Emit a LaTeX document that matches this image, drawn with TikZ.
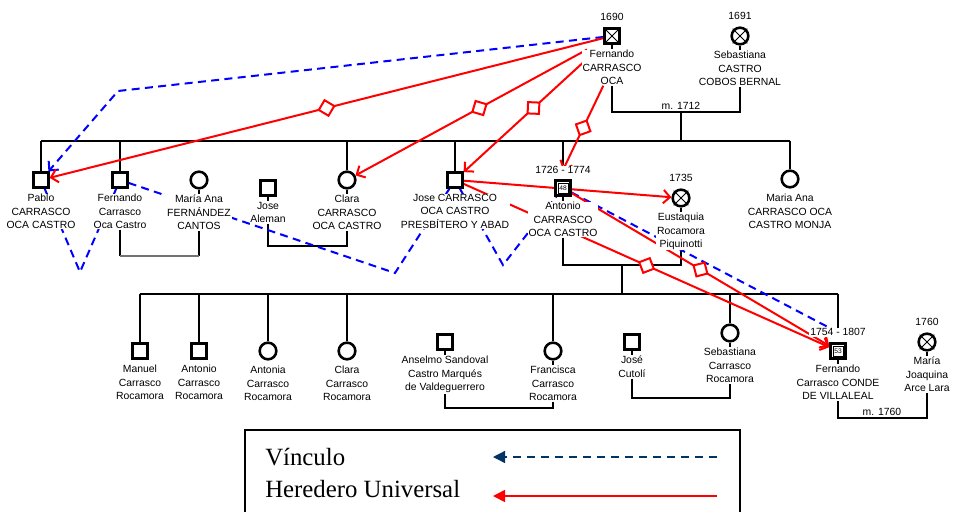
\documentclass[tikz,border=0pt]{standalone}
\usepackage{fontspec}
\setmainfont{Liberation Sans}
\newfontfamily\legfont{Liberation Serif}
\usetikzlibrary{positioning, arrows.meta, decorations.markings, backgrounds}
\definecolor{navy}{RGB}{0,51,102}

\begin{document}
\begin{tikzpicture}[x=0.75pt, y=-0.75pt]
	\tikzstyle{male}=[draw, line width=1.9pt, minimum size=11pt, inner sep=0pt, fill=white];
	\tikzstyle{female}=[draw, circle, line width=1.9pt, minimum size=12.5pt, inner sep=0pt, fill=white];
	\tikzstyle{lbl}=[fill=white, inner sep=0.6pt, align=center, font=\fontsize{7.8}{10}\selectfont];
	\tikzstyle{age}=[draw, line width=0.4pt, inner sep=0pt, minimum size=7.5pt, font=\fontsize{5}{5}\selectfont];
	\tikzstyle{kin}=[line width=1.9pt];
	\tikzstyle{heir}=[red, line width=1.5pt, -{Straight Barb[length=5pt, width=10pt]}];
	\tikzstyle{vinc}=[blue, line width=1.5pt, dash pattern=on 6pt off 4pt];
	\tikzstyle{dia}=[postaction={decorate, decoration={markings, mark=at position 0.5 with {\draw[red, solid, line width=1.5pt, fill=white] (-6pt,0) -- (0,6pt) -- (6pt,0) -- (0,-6pt) -- cycle;}}}];
	\useasboundingbox (0,0) rectangle (953,511);

	% first generation
	\node[male] (fer) at (612,36) {};
	\node[lbl, above=4pt of fer] (ferY) {1690};
	\node[lbl, below=3.5pt of fer] (ferL) {Fernando\\CARRASCO\\OCA};
	\node[female] (seb) at (740,36) {};
	\node[lbl, above=4pt of seb] (sebY) {1691};
	\node[lbl, below=3.5pt of seb] (sebL) {Sebastiana\\CASTRO\\COBOS BERNAL};

	% second generation
	\node[male] (pab) at (41,180) {};
	\node[lbl, below=3.5pt of pab] (pabL) {Pablo\\CARRASCO\\OCA CASTRO};
	\node[male] (fhi) at (120,180) {};
	\node[lbl, below=3.5pt of fhi] (fhiL) {Fernando\\Carrasco\\Oca Castro};
	\node[female] (mfa) at (199,180) {};
	\node[lbl, below=3.5pt of mfa] (mfaL) {María Ana\\FERNÁNDEZ\\CANTOS};
	\node[male] (ale) at (268,188) {};
	\node[lbl, below=3.5pt of ale] (aleL) {Jose\\Aleman};
	\node[female] (cla) at (347,180) {};
	\node[lbl, below=3.5pt of cla] (claL) {Clara\\CARRASCO\\OCA CASTRO};
	\node[male] (jca) at (455,180) {};
	\node[lbl, below=3.5pt of jca] (jcaL) {Jose CARRASCO\\OCA CASTRO\\PRESBÍTERO Y ABAD};
	\node[male, label={[age]center:48}] (ant) at (563,188) {};
	\node[lbl, above=3.5pt of ant] (antY) {1726 - 1774};
	\node[lbl, below=3.5pt of ant] (antL) {Antonio\\CARRASCO\\OCA CASTRO};
	\node[female] (eus) at (681,198) {};
	\node[lbl, above=4pt of eus] (eusY) {1735};
	\node[lbl, below=3.5pt of eus] (eusL) {Eustaquia\\Rocamora\\Piquinotti};
	\node[female] (mon) at (790,179) {};
	\node[lbl, below=3.5pt of mon] (monL) {Maria Ana\\CARRASCO OCA\\CASTRO MONJA};

	% third generation
	\node[male] (man) at (140,351) {};
	\node[lbl, below=3.5pt of man] (manL) {Manuel\\Carrasco\\Rocamora};
	\node[male] (an2) at (199,351) {};
	\node[lbl, below=3.5pt of an2] (an2L) {Antonio\\Carrasco\\Rocamora};
	\node[female] (atn) at (268,351) {};
	\node[lbl, below=3.5pt of atn] (atnL) {Antonia\\Carrasco\\Rocamora};
	\node[female] (cl2) at (347,351) {};
	\node[lbl, below=3.5pt of cl2] (cl2L) {Clara\\Carrasco\\Rocamora};
	\node[male] (ans) at (445,342) {};
	\node[lbl, below=3.5pt of ans] (ansL) {Anselmo Sandoval\\Castro Marqués\\de Valdeguerrero};
	\node[female] (fra) at (553,351) {};
	\node[lbl, below=3.5pt of fra] (fraL) {Francisca\\Carrasco\\Rocamora};
	\node[male] (jcu) at (632,342) {};
	\node[lbl, below=3.5pt of jcu] (jcuL) {José\\Cutolí};
	\node[female] (se2) at (730,333) {};
	\node[lbl, below=3.5pt of se2] (se2L) {Sebastiana\\Carrasco\\Rocamora};
	\node[male, label={[age]center:53}] (f54) at (838,351) {};
	\node[lbl, above=4pt of f54] (f54Y) {1754 - 1807};
	\node[lbl, below=3.5pt of f54] (f54L) {Fernando\\Carrasco CONDE\\DE VILLALEAL};
	\node[female] (joa) at (927,342) {};
	\node[lbl, above=4pt of joa] (joaY) {1760};
	\node[lbl, below=3.5pt of joa] (joaL) {María\\Joaquina\\Arce Lara};

	% crosses and stubs
	\foreach \c in {fer, seb, eus, joa}
		\draw[line width=0.7pt] ([shift={(-5.5pt,5.5pt)}]\c.center) -- ([shift={(5.5pt,-5.5pt)}]\c.center)
			([shift={(-5.5pt,-5.5pt)}]\c.center) -- ([shift={(5.5pt,5.5pt)}]\c.center);
	\foreach \c in {fer, seb, mfa, ale, cla, ant, eus, ans, fra, jcu, se2, f54, joa}
		\draw[line width=1.4pt] (\c.south) -- ++(0,-3pt);

	% couples
	\coordinate (m1712) at (681,112);
	\coordinate (mA) at (160,256);
	\coordinate (mB) at (307,246);
	\coordinate (mC) at (622,265);
	\coordinate (mD) at (499,408);
	\coordinate (mE) at (681,398);
	\coordinate (m1760) at (882,418);
	\coordinate (bar1L) at (41,141);
	\coordinate (bar1R) at (790,141);
	\coordinate (bar2L) at (140,294);
	\coordinate (bar2R) at (838,294);
	\node[lbl, fill=none, above=1pt of m1712] (t1712) {m. 1712};
	\node[lbl, fill=none, above=1pt of m1760] (t1760) {m. 1760};

	% bends of the vinculo
	\coordinate (vA) at (118,91);
	\coordinate (vB) at (80,272);
	\coordinate (vC) at (395,273);
	\coordinate (vD) at (503,265);

	\begin{scope}[on background layer]
		\draw[kin] (ferL.south) |- (m1712) -| (sebL.south);
		\draw[kin] (m1712) -- (m1712 |- bar1L);
		\draw[kin] (bar1L) -- (bar1R);
		\foreach \c in {pab, fhi, cla, jca, mon}
			\draw[kin] (\c.north) -- (\c.north |- bar1L);
		\draw[kin] (antY.north) -- (antY.north |- bar1L);
		\draw[kin] (fhiL.south) -- (fhiL.south |- mA);
		\draw[kin] (mfaL.south) -- (mfaL.south |- mA);
		\draw[kin, black!55] (fhiL.south |- mA) -- (mfaL.south |- mA);
		\draw[kin] (aleL.south) |- (mB) -| (claL.south);
		\draw[kin] (antL.south) |- (mC) -| (eusL.south);
		\draw[kin] (mC) -- (mC |- bar2L);
		\draw[kin] (bar2L) -- (bar2R);
		\foreach \c in {man, an2, atn, cl2, fra, se2}
			\draw[kin] (\c.north) -- (\c.north |- bar2L);
		\draw[kin] (f54Y.north) -- (f54Y.north |- bar2L);
		\draw[kin] (ansL.south) |- (mD) -| (fraL.south);
		\draw[kin] (jcuL.south) |- (mE) -| (se2L.south);
		\draw[kin] (f54L.south) |- (m1760) -| (joaL.south);

		% vinculo
		\draw[vinc, -{Straight Barb[length=5pt, width=10pt]}] (fer) -- (vA) -- (pab);
		\draw[vinc] (pab) -- (vB) -- (fhi);
		\draw[vinc] (fhi) -- (vC) -- (jca);
		\draw[vinc] (jca) -- (vD) -- (ant);
		\draw[vinc] (ant) -- (f54Y.center);

		% herederos
		\draw[heir, dia] (fer) -- (pab);
		\draw[heir, dia, shorten <=14pt] (fer) -- (cla);
		\draw[heir, dia, shorten <=14pt] (fer) -- (jca);
		\draw[heir, dia] (ferL) -- (antY.center);
		\draw[heir] (jca) -- (eus);
		\draw[heir, dia] (jca) -- (f54);
		\draw[heir, dia] (ant) -- (f54);
	\end{scope}

	% legend
	\draw[line width=1pt] (245,430) rectangle (740,525);
	\node[anchor=base west, inner sep=0pt, font=\legfont\fontsize{18.6}{22}\selectfont] (legV) at (265,465) {Vínculo};
	\node[anchor=base west, inner sep=0pt, font=\legfont\fontsize{18.6}{22}\selectfont] (legH) at (265,497) {Heredero Universal};
	\coordinate (lvA) at (717,457);
	\coordinate (lvB) at (493,457);
	\coordinate (lhA) at (717,496);
	\coordinate (lhB) at (493,496);
	\draw[navy, line width=1pt, dash pattern=on 6pt off 4.5pt, -{Triangle[length=9pt, width=9pt]}] (lvA) -- (lvB);
	\draw[red, line width=1.3pt, -{Triangle[length=9pt, width=9pt]}] (lhA) -- (lhB);
\end{tikzpicture}
\end{document}
